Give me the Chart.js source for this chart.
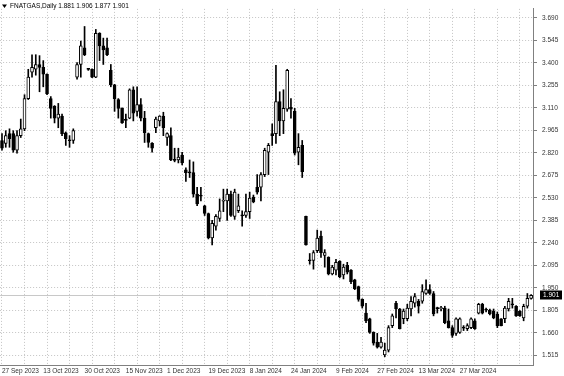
<!DOCTYPE html>
<html>
<head>
<meta charset="utf-8">
<script src="https://cdn.jsdelivr.net/npm/chart.js@4.4.0/dist/chart.umd.min.js"></script>
<style>
  html, body { margin: 0; padding: 0; background: #fff; }
  #wrap { width: 564px; height: 376px; position: relative; }
</style>
</head>
<body>
<div id="wrap"><canvas id="chartNatgas"></canvas></div>
<script>
// Daily OHLC
let openPrices = [2.900, 2.881, 2.944, 2.944, 2.837, 2.931, 2.975, 3.170, 3.340, 3.359,
    3.390, 3.371, 3.327, 3.170, 3.120, 3.044, 3.057, 2.950, 2.902, 2.900,
    3.308, 3.390, 3.497, 3.362, 3.359, 3.308, 3.591, 3.510, 3.497, 3.352,
    3.258, 3.164, 3.107, 3.034, 3.044, 3.227, 3.088, 3.132, 3.044, 2.944,
    2.881, 2.982, 3.026, 3.057, 2.919, 2.931, 2.776, 2.774, 2.806, 2.711,
    2.695, 2.693, 2.554, 2.544, 2.479, 2.429, 2.271, 2.347, 2.397, 2.508,
    2.510, 2.554, 2.410, 2.447, 2.418, 2.416, 2.441, 2.535, 2.598, 2.598,
    2.680, 2.824, 2.944, 2.944, 3.151, 3.026, 3.101, 3.114, 3.088, 2.824,
    2.868, 2.410, 2.130, 2.127, 2.190, 2.284, 2.158, 2.146, 2.039, 2.064,
    2.121, 2.033, 2.095, 2.064, 2.001, 1.957, 1.875, 1.787, 1.750, 1.662,
    1.599, 1.567, 1.517, 1.548, 1.706, 1.850, 1.813, 1.750, 1.750, 1.813,
    1.850, 1.863, 1.863, 1.913, 1.938, 1.913, 1.819, 1.816, 1.819, 1.737,
    1.693, 1.656, 1.662, 1.693, 1.687, 1.693, 1.737, 1.787, 1.844, 1.808,
    1.806, 1.800, 1.781, 1.750, 1.750, 1.813, 1.844, 1.831, 1.800, 1.756,
    1.831, 1.881];
let highPrices = [2.944, 2.963, 2.975, 2.963, 2.963, 3.038, 3.195, 3.359, 3.453, 3.453,
    3.447, 3.415, 3.330, 3.183, 3.125, 3.139, 3.070, 2.955, 2.931, 2.975,
    3.403, 3.541, 3.635, 3.365, 3.362, 3.616, 3.595, 3.560, 3.560, 3.390,
    3.262, 3.170, 3.110, 3.070, 3.233, 3.246, 3.246, 3.170, 3.088, 2.948,
    2.887, 3.051, 3.060, 3.082, 2.950, 2.982, 2.850, 2.850, 2.824, 2.724,
    2.774, 2.762, 2.598, 2.598, 2.482, 2.432, 2.385, 2.422, 2.523, 2.586,
    2.586, 2.573, 2.586, 2.554, 2.447, 2.554, 2.567, 2.548, 2.680, 2.693,
    2.850, 2.881, 3.007, 3.384, 3.214, 3.227, 3.359, 3.170, 3.107, 2.944,
    2.900, 2.412, 2.171, 2.190, 2.322, 2.315, 2.196, 2.150, 2.095, 2.133,
    2.125, 2.102, 2.114, 2.068, 2.005, 1.961, 1.879, 1.850, 1.754, 1.666,
    1.656, 1.630, 1.593, 1.706, 1.781, 1.863, 1.817, 1.813, 1.844, 1.894,
    1.913, 1.875, 1.970, 2.001, 1.970, 1.926, 1.825, 1.831, 1.831, 1.813,
    1.706, 1.756, 1.756, 1.706, 1.718, 1.756, 1.750, 1.850, 1.850, 1.819,
    1.813, 1.813, 1.794, 1.752, 1.831, 1.882, 1.882, 1.835, 1.803, 1.844,
    1.913, 1.906];
let lowPrices = [2.837, 2.856, 2.856, 2.824, 2.818, 2.919, 2.963, 3.164, 3.308, 3.321,
    3.214, 3.246, 3.195, 3.044, 3.013, 2.982, 2.931, 2.868, 2.856, 2.881,
    3.296, 3.308, 3.447, 3.352, 3.305, 3.305, 3.415, 3.390, 3.447, 3.246,
    3.088, 3.044, 3.010, 2.982, 3.040, 3.026, 3.057, 3.026, 2.887, 2.856,
    2.824, 2.950, 2.994, 2.931, 2.868, 2.770, 2.762, 2.755, 2.743, 2.636,
    2.661, 2.535, 2.479, 2.510, 2.416, 2.265, 2.227, 2.322, 2.378, 2.441,
    2.385, 2.410, 2.391, 2.435, 2.347, 2.403, 2.397, 2.498, 2.554, 2.510,
    2.667, 2.680, 2.868, 2.881, 2.931, 2.944, 3.088, 3.044, 2.806, 2.743,
    2.661, 2.225, 2.102, 2.070, 2.177, 2.146, 2.083, 2.033, 2.033, 2.033,
    2.014, 2.007, 2.039, 1.976, 1.938, 1.863, 1.819, 1.725, 1.656, 1.580,
    1.561, 1.561, 1.505, 1.536, 1.693, 1.756, 1.684, 1.718, 1.737, 1.769,
    1.825, 1.787, 1.850, 1.907, 1.907, 1.769, 1.787, 1.800, 1.718, 1.690,
    1.630, 1.643, 1.656, 1.674, 1.674, 1.687, 1.681, 1.781, 1.781, 1.794,
    1.775, 1.750, 1.693, 1.704, 1.725, 1.800, 1.819, 1.766, 1.766, 1.737,
    1.819, 1.877];
let closePrices = [2.850, 2.931, 2.912, 2.837, 2.931, 2.975, 3.170, 3.308, 3.371, 3.390,
    3.371, 3.327, 3.202, 3.107, 3.044, 3.070, 2.944, 2.912, 2.898, 2.963,
    3.390, 3.510, 3.453, 3.358, 3.308, 3.591, 3.510, 3.484, 3.453, 3.258,
    3.170, 3.107, 3.013, 3.030, 3.227, 3.076, 3.132, 3.044, 2.950, 2.887,
    2.850, 3.038, 3.057, 2.982, 2.944, 2.774, 2.772, 2.793, 2.755, 2.693,
    2.691, 2.554, 2.491, 2.540, 2.429, 2.271, 2.366, 2.410, 2.447, 2.512,
    2.554, 2.416, 2.567, 2.479, 2.414, 2.441, 2.529, 2.504, 2.567, 2.680,
    2.837, 2.868, 2.931, 3.151, 3.026, 3.107, 3.352, 3.101, 2.818, 2.856,
    2.699, 2.227, 2.124, 2.177, 2.271, 2.177, 2.177, 2.039, 2.083, 2.114,
    2.020, 2.083, 2.051, 1.989, 1.945, 1.875, 1.831, 1.737, 1.662, 1.593,
    1.567, 1.599, 1.548, 1.693, 1.769, 1.813, 1.687, 1.800, 1.819, 1.863,
    1.894, 1.831, 1.926, 1.938, 1.913, 1.781, 1.816, 1.819, 1.725, 1.693,
    1.643, 1.750, 1.750, 1.690, 1.706, 1.750, 1.687, 1.844, 1.787, 1.805,
    1.781, 1.756, 1.706, 1.706, 1.819, 1.863, 1.840, 1.769, 1.769, 1.831,
    1.882, 1.901];

// price axis ticks and the date labels (bar index + text)
let priceTicks = [1.515, 1.660, 1.805, 1.950, 2.095, 2.240, 2.385, 2.530, 2.675, 2.820,
    2.965, 3.110, 3.255, 3.400, 3.545, 3.690];
let dateIndex = [0, 11, 22, 33, 44, 55, 66, 77, 89, 100, 111, 122];
let dateText = ['27 Sep 2023', '13 Oct 2023', '30 Oct 2023', '15 Nov 2023', '1 Dec 2023',
    '19 Dec 2023', '8 Jan 2024', '24 Jan 2024', '9 Feb 2024', '27 Feb 2024',
    '13 Mar 2024', '27 Mar 2024'];
let symbolName = 'FNATGAS,Daily';

let bars = openPrices.map((v, i) => i);
let gridColor = '#c4c4c4';
let frameColor = '#808080';

Chart.defaults.font.family = "'Liberation Sans', 'DejaVu Sans', sans-serif";
Chart.defaults.font.size = 6.5;
Chart.defaults.color = '#333';

// bodies: white for up days, black for down days
let bodies = openPrices.map((o, i) => [Math.min(o, closePrices[i]), Math.max(o, closePrices[i])]);
let bodyColors = openPrices.map((o, i) => closePrices[i] > o ? '#ffffff' : '#000000');
let wicks = lowPrices.map((l, i) => [l, highPrices[i]]);

// extras drawn on the canvas: bid line, header, price box
const extras = {
    id: 'extras',
    beforeDatasetsDraw(chart) {
        let ctx = chart.ctx;
        let area = chart.chartArea;
        let last = closePrices[closePrices.length - 1];
        let y = Math.round(chart.scales.y.getPixelForValue(last)) + 0.5;
        ctx.save();
        ctx.strokeStyle = '#c8c8c8';
        ctx.lineWidth = 1;
        ctx.beginPath();
        ctx.moveTo(area.left, y);
        ctx.lineTo(area.right, y);
        ctx.stroke();
        ctx.restore();
    },
    afterDraw(chart) {
        let ctx = chart.ctx;
        let area = chart.chartArea;
        let n = closePrices.length - 1;
        ctx.save();
        ctx.fillStyle = '#000';
        ctx.font = "6.5px 'Liberation Sans', 'DejaVu Sans', sans-serif";
        ctx.textBaseline = 'middle';
        ctx.beginPath();
        ctx.moveTo(2, 4.5);
        ctx.lineTo(7, 4.5);
        ctx.lineTo(4.5, 8);
        ctx.closePath();
        ctx.fill();
        let header = symbolName + ' ' + openPrices[n].toFixed(3) + ' ' + highPrices[n].toFixed(3) +
            ' ' + lowPrices[n].toFixed(3) + ' ' + closePrices[n].toFixed(3);
        ctx.fillText(header, 10, 6.5);

        let y = Math.round(chart.scales.y.getPixelForValue(closePrices[n]));
        ctx.fillStyle = '#000';
        ctx.fillRect(area.right + 7, y - 4.5, 22, 9);
        ctx.fillStyle = '#fff';
        ctx.fillText(closePrices[n].toFixed(3), area.right + 10, y + 0.5);
        ctx.restore();
    }
};

new Chart(document.getElementById('chartNatgas'), {
    type: 'bar',
    data: {
        labels: bars,
        datasets: [
            {
                label: 'body',
                data: bodies,
                backgroundColor: bodyColors,
                borderColor: '#000',
                borderWidth: 1,
                borderSkipped: false,
                barThickness: 3,
                minBarLength: 1,
                grouped: false,
                order: 1
            },
            {
                label: 'wick',
                data: wicks,
                backgroundColor: '#000',
                borderWidth: 0,
                barThickness: 1,
                grouped: false,
                order: 2
            }
        ]
    },
    options: {
        animation: false,
        responsive: true,
        maintainAspectRatio: false,
        layout: { padding: 0 },
        plugins: {
            legend: { display: false },
            tooltip: { enabled: false }
        },
        scales: {
            x: {
                type: 'category',
                offset: true,
                grid: {
                    offset: false,
                    drawTicks: false,
                    color: c => c.index % 6 === 0 ? gridColor : 'rgba(0,0,0,0)'
                },
                border: { color: frameColor, dash: [1, 2] },
                ticks: {
                    autoSkip: false,
                    maxRotation: 0,
                    minRotation: 0,
                    align: 'start',
                    padding: 2,
                    callback: function(value, index) {
                        let k = dateIndex.indexOf(index);
                        return k >= 0 ? dateText[k] : '';
                    }
                },
                afterFit: function(scale) { scale.height = 11; }
            },
            y: {
                position: 'right',
                min: 1.452,
                max: 3.7484,
                bounds: 'data',
                grid: { color: gridColor, tickColor: frameColor, tickLength: 4 },
                border: { color: frameColor, dash: [1, 2] },
                ticks: {
                    padding: 5,
                    callback: v => v.toFixed(3)
                },
                afterBuildTicks: function(scale) {
                    scale.ticks = priceTicks.map(v => ({ value: v }));
                },
                afterFit: function(scale) { scale.width = 31; }
            }
        }
    },
    plugins: [extras]
});
</script>
</body>
</html>
